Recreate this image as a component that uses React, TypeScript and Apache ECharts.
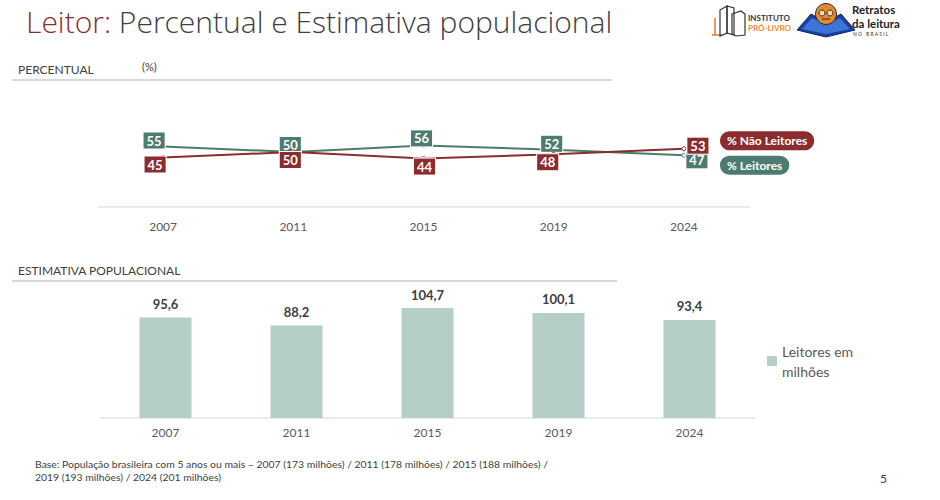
import React, { useEffect, useRef } from "react";
import * as echarts from "echarts";

const years = ["2007", "2011", "2015", "2019", "2024"];
const leitores = [55, 50, 56, 52, 47];
const naoLeitores = [45, 50, 44, 48, 53];
const leitoresMilhoes = [95.6, 88.2, 104.7, 100.1, 93.4];
const footerLines = [
  "Base: População brasileira com 5 anos ou mais – 2007 (173 milhões) / 2011 (178 milhões) / 2015 (188 milhões) /",
  "2019 (193 milhões) / 2024 (201 milhões)",
];

const RED = "#8B2C2F";
const GREEN = "#4E7B6F";
const BAR = "#B5CEC8";
const FONT = "Lato, 'Open Sans', sans-serif";

// label offsets per point (layout only)
const greenOffsets = [[-9, -6], [-3, -7], [-2, -7], [-2, -6], [13, 5]];
const redOffsets = [[-8, 7], [-3, 8], [1, 8], [-6, 8], [14, -3]];

function boxLabel(color: string, off: number[]) {
  return {
    show: true,
    position: "inside",
    offset: off,
    color: "#fff",
    fontWeight: "bold",
    fontSize: 13,
    fontFamily: FONT,
    backgroundColor: color,
    borderColor: "#fff",
    borderWidth: 1,
    padding: [2, 3, 1, 3],
  };
}

export default function App() {
  const ref = useRef<HTMLDivElement>(null);
  useEffect(() => {
    if (!ref.current) return;
    const chart = echarts.init(ref.current, null, { renderer: "svg" });
    const option: any = {
      animation: false,
      backgroundColor: "#fff",
      textStyle: { fontFamily: FONT },
      legend: {
        data: ["Leitores em milhões"],
        left: 762,
        top: 336,
        icon: "rect",
        itemWidth: 10,
        itemHeight: 10,
        itemGap: 4,
        formatter: () => "Leitores em\nmilhões",
        textStyle: { fontSize: 14, color: "#595959", lineHeight: 20, fontFamily: FONT },
      },
      grid: [
        { left: 98, width: 651, top: 91.5, height: 121 },
        { left: 100, width: 655, top: 292, height: 126 },
      ],
      xAxis: [
        {
          gridIndex: 0,
          type: "category",
          data: years,
          axisLine: { lineStyle: { color: "#E3E3E3", width: 1.5 } },
          axisTick: { show: false },
          axisLabel: { color: "#595959", fontSize: 12, margin: 8, fontFamily: FONT },
        },
        {
          gridIndex: 1,
          type: "category",
          data: years,
          axisLine: { lineStyle: { color: "#E3E3E3", width: 1.5 } },
          axisTick: { show: false },
          axisLabel: { color: "#595959", fontSize: 12, margin: 8, fontFamily: FONT },
        },
      ],
      yAxis: [
        { gridIndex: 0, type: "value", min: -5, max: 105, show: false, splitLine: { show: false } },
        { gridIndex: 1, type: "value", min: 0, max: 120, show: false, splitLine: { show: false } },
      ],
      series: [
        {
          name: "% Leitores",
          type: "line",
          xAxisIndex: 0,
          yAxisIndex: 0,
          data: leitores.map((v, i) => ({ value: v, label: boxLabel(GREEN, greenOffsets[i]) })),
          symbol: "circle",
          symbolSize: 4,
          itemStyle: { color: "#fff", borderColor: GREEN, borderWidth: 1 },
          lineStyle: { color: GREEN, width: 2 },
          z: 3,
          endLabel: {
            show: true,
            formatter: "{a}",
            offset: [28, 10],
            color: "#fff",
            fontWeight: "bold",
            fontSize: 12,
            fontFamily: FONT,
            backgroundColor: GREEN,
            borderRadius: 10,
            padding: [4, 7, 3, 7],
          },
        },
        {
          name: "% Não Leitores",
          type: "line",
          xAxisIndex: 0,
          yAxisIndex: 0,
          data: naoLeitores.map((v, i) => ({ value: v, label: boxLabel(RED, redOffsets[i]) })),
          symbol: "circle",
          symbolSize: 4,
          itemStyle: { color: "#fff", borderColor: RED, borderWidth: 1 },
          lineStyle: { color: RED, width: 2 },
          z: 4,
          endLabel: {
            show: true,
            formatter: "{a}",
            offset: [28, -8],
            color: "#fff",
            fontWeight: "bold",
            fontSize: 12,
            fontFamily: FONT,
            backgroundColor: RED,
            borderRadius: 10,
            padding: [4, 7, 3, 7],
          },
        },
        {
          name: "Leitores em milhões",
          type: "bar",
          xAxisIndex: 1,
          yAxisIndex: 1,
          data: leitoresMilhoes,
          barWidth: 52,
          itemStyle: { color: BAR },
          label: {
            show: true,
            position: "top",
            distance: 7,
            color: "#404040",
            fontWeight: "bold",
            fontSize: 13,
            fontFamily: FONT,
            formatter: (p: any) => p.value.toFixed(1).replace(".", ","),
          },
        },
      ],
      graphic: [
        {
          type: "text",
          left: 26,
          top: 6,
          style: {
            text: "{a|Leitor:}{b| Percentual e Estimativa populacional}",
            rich: {
              a: { fill: "#8B2C2F", fontSize: 30, lineHeight: 38, fontFamily: "'Open Sans', sans-serif", fontWeight: 300 },
              b: { fill: "#404040", fontSize: 30, lineHeight: 38, fontFamily: "'Open Sans', sans-serif", fontWeight: 300 },
            },
          },
        },
        { type: "text", left: 18, top: 63, style: { text: "PERCENTUAL", fill: "#404040", fontSize: 12, fontFamily: FONT } },
        { type: "text", left: 142, top: 61, style: { text: "(%)", fill: "#404040", fontSize: 11, fontFamily: FONT } },
        { type: "line", shape: { x1: 12, y1: 80, x2: 612, y2: 80 }, style: { stroke: "#D9D9D9", lineWidth: 2 } },
        { type: "text", left: 18, top: 264, style: { text: "ESTIMATIVA POPULACIONAL", fill: "#404040", fontSize: 12, fontFamily: FONT } },
        { type: "line", shape: { x1: 12, y1: 281, x2: 617, y2: 281 }, style: { stroke: "#D9D9D9", lineWidth: 2 } },
        {
          type: "text",
          left: 35,
          top: 457,
          style: { text: footerLines.join("\n"), fill: "#404040", fontSize: 10.4, lineHeight: 13, fontFamily: FONT },
        },
        { type: "text", left: 880, top: 472, style: { text: "5", fill: "#404040", fontSize: 12, fontFamily: FONT } },
        // Instituto Pró-Livro logo (simplified)
        {
          type: "group",
          children: [
            { type: "line", shape: { x1: 715, y1: 18, x2: 715, y2: 35 }, style: { stroke: "#E8772E", lineWidth: 1.5 } },
            { type: "line", shape: { x1: 712, y1: 35, x2: 722, y2: 35 }, style: { stroke: "#E8772E", lineWidth: 1.5 } },
            { type: "polygon", shape: { points: [[720, 10], [727, 6], [727, 33], [720, 36]] }, style: { fill: "none", stroke: "#333", lineWidth: 1.2 } },
            { type: "polygon", shape: { points: [[727, 6], [734, 8], [734, 35], [727, 33]] }, style: { fill: "none", stroke: "#333", lineWidth: 1.2 } },
            { type: "polygon", shape: { points: [[732, 14], [741, 11], [745, 14], [745, 35], [736, 36], [732, 34]] }, style: { fill: "none", stroke: "#333", lineWidth: 1.2 } },
            { type: "text", left: 748, top: 14, style: { text: "INSTITUTO", fill: "#333", fontSize: 8, fontWeight: "bold", fontFamily: FONT } },
            { type: "text", left: 748, top: 24, style: { text: "PRÓ-LIVRO", fill: "#F08A3C", fontSize: 8, fontWeight: "bold", fontFamily: FONT } },
          ],
        },
        // Retratos da leitura logo (simplified)
        {
          type: "group",
          children: [
            { type: "polygon", shape: { points: [[797, 30], [811, 14], [826, 22], [841, 14], [855, 30], [826, 37]] }, style: { fill: "#1B3F9E", stroke: "#10275F", lineWidth: 1 } },
            { type: "polygon", shape: { points: [[802, 29], [812, 18], [826, 25], [840, 18], [850, 29], [826, 34]] }, style: { fill: "#3E74D6" } },
            { type: "circle", shape: { cx: 826, cy: 14, r: 10.5 }, style: { fill: "#E08A34", stroke: "#3A2A1A", lineWidth: 1 } },
            { type: "circle", shape: { cx: 822, cy: 13, r: 3 }, style: { fill: "#F5D9A8", stroke: "#3A2A1A", lineWidth: 1 } },
            { type: "circle", shape: { cx: 830, cy: 13, r: 3 }, style: { fill: "#F5D9A8", stroke: "#3A2A1A", lineWidth: 1 } },
            { type: "line", shape: { x1: 822, y1: 19, x2: 830, y2: 19 }, style: { stroke: "#3A2A1A", lineWidth: 1 } },
            { type: "text", left: 852, top: 3, style: { text: "Retratos", fill: "#222", fontSize: 11.5, lineHeight: 12, fontWeight: "bold", fontFamily: FONT } },
            { type: "text", left: 852, top: 17, style: { text: "da leitura", fill: "#222", fontSize: 11.5, lineHeight: 12, fontWeight: "bold", fontFamily: FONT } },
            { type: "text", left: 853, top: 31, style: { text: "N O   B R A S I L", fill: "#333", fontSize: 5, lineHeight: 5, fontFamily: FONT } },
          ],
        },
      ],
    };
    chart.setOption(option);
    return () => chart.dispose();
  }, []);
  return (
    <div
      ref={ref}
      style={{ position: "fixed", left: 0, top: 0, width: 940, height: 500, background: "#fff" }}
    />
  );
}
